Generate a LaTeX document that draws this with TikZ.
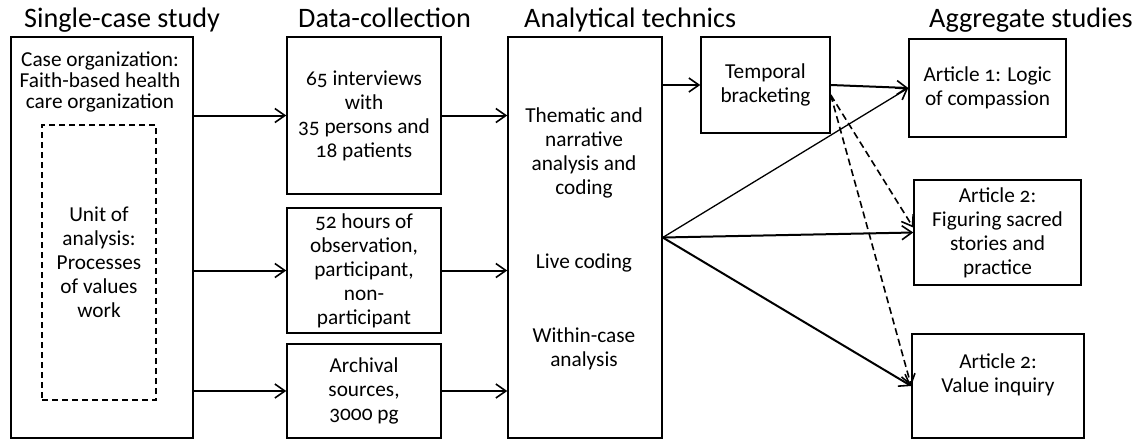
\documentclass[tikz,border=0pt]{standalone}
\usepackage{fontspec}
\setmainfont{Carlito}[Numbers=OldStyle]
\usetikzlibrary{arrows.meta,calc}
\tikzset{
  box/.style={draw=black, line width=1.5pt, inner sep=0pt},
  dbox/.style={draw=black, line width=1.3pt, dash pattern=on 6pt off 4pt, inner sep=0pt},
  txt/.style={align=center, inner sep=0pt, font=\fontsize{21.3}{24}\selectfont},
  ttl/.style={anchor=base west, inner sep=0pt, font=\fontsize{28.2}{31}\selectfont},
  arr/.style={line width=2pt, -{Straight Barb[length=10pt,width=14pt,line width=1.6pt]}},
  thinarr/.style={line width=1.3pt, -{Straight Barb[length=10pt,width=14pt,line width=1.6pt]}},
  darr/.style={line width=1.6pt, dash pattern=on 7pt off 4pt, -{Straight Barb[length=10pt,width=14pt,line width=1.6pt]}}
}
\begin{document}
\begin{tikzpicture}[x=1pt,y=-1pt]
\useasboundingbox (0,0) rectangle (1135,440);
\fill[white] (0,0) rectangle (1135,440);

% titles
\node[ttl] (t1) at (24,27) {Single-case study};
\node[ttl] (t2) at (298,27) {Data-collection};
\node[ttl] (t3) at (524,27) {Analytical technics};
\node[ttl] (t4) at (929,27) {Aggregate studies};

% single-case study
\node[box, minimum width=182pt, minimum height=401pt] (b1) at (102,237.5) {};
\node[txt, font=\fontsize{21.3}{21}\selectfont] (b1t) at (100,82) {Case organization:\\Faith-based health\\care organization};
\node[dbox, txt, minimum width=114pt, minimum height=275pt] (ua) at (99,262.5) {Unit of\\analysis:\\Processes\\of values\\work};

% data collection
\node[box, txt, minimum width=154pt, minimum height=157pt] (dc1) at (364,115.5) {65 interviews\\with\\35 persons and\\18 patients};
\node[box, txt, minimum width=154pt, minimum height=125pt] (dc2) at (364,270.5) {52 hours of\\observation,\\participant,\\non-\\participant};
\node[box, txt, minimum width=154pt, minimum height=94pt] (dc3) at (364,391) {Archival\\sources,\\3000 pg};

% analytical
\node[box, minimum width=154pt, minimum height=401pt] (an) at (585,237.5) {};
\node[txt] (an1) at (584,153) {Thematic and\\narrative\\analysis and\\coding};
\node[txt] (an2) at (584,263) {Live coding};
\node[txt] (an3) at (584,348.5) {Within-case\\analysis};

\node[box, txt, minimum width=129pt, minimum height=96pt] (tb) at (765.5,85) {Temporal\\bracketing};

% aggregate
\node[box, txt, minimum width=157pt, minimum height=98pt] (a1) at (987.5,88) {Article 1: Logic\\of compassion};
\node[box, txt, minimum width=167pt, minimum height=105pt] (a2) at (997.5,232.5) {Article 2:\\Figuring sacred\\stories and\\practice};
\node[box, minimum width=172pt, minimum height=104pt] (a3) at (998,386) {};
\node[txt] (a3t) at (998,375) {Article 2:\\Value inquiry};

% connectors
\draw[arr] (b1.east |- dc1.west) -- (dc1.west);
\draw[arr] (b1.east |- dc2.west) -- (dc2.west);
\draw[arr] (b1.east |- dc3.west) -- (dc3.west);
\draw[arr] (dc1.east) -- (an.west |- dc1.east);
\draw[arr] (dc2.east) -- (an.west |- dc2.east);
\draw[arr] (dc3.east) -- (an.west |- dc3.east);
\draw[arr] (an.east |- tb.west) -- (tb.west);
\draw[arr] (tb.east) -- (a1.west);
\draw[thinarr] (an.east) -- (a1.west);
\draw[arr] (an.east) -- (a2.west);
\draw[arr] (an.east) -- (a3.west);
\coordinate (ds) at ([yshift=-10pt]tb.east);
\draw[darr] (ds) -- ([yshift=5pt]a2.west);
\draw[darr] (ds) -- (a3.west);
\end{tikzpicture}
\end{document}
